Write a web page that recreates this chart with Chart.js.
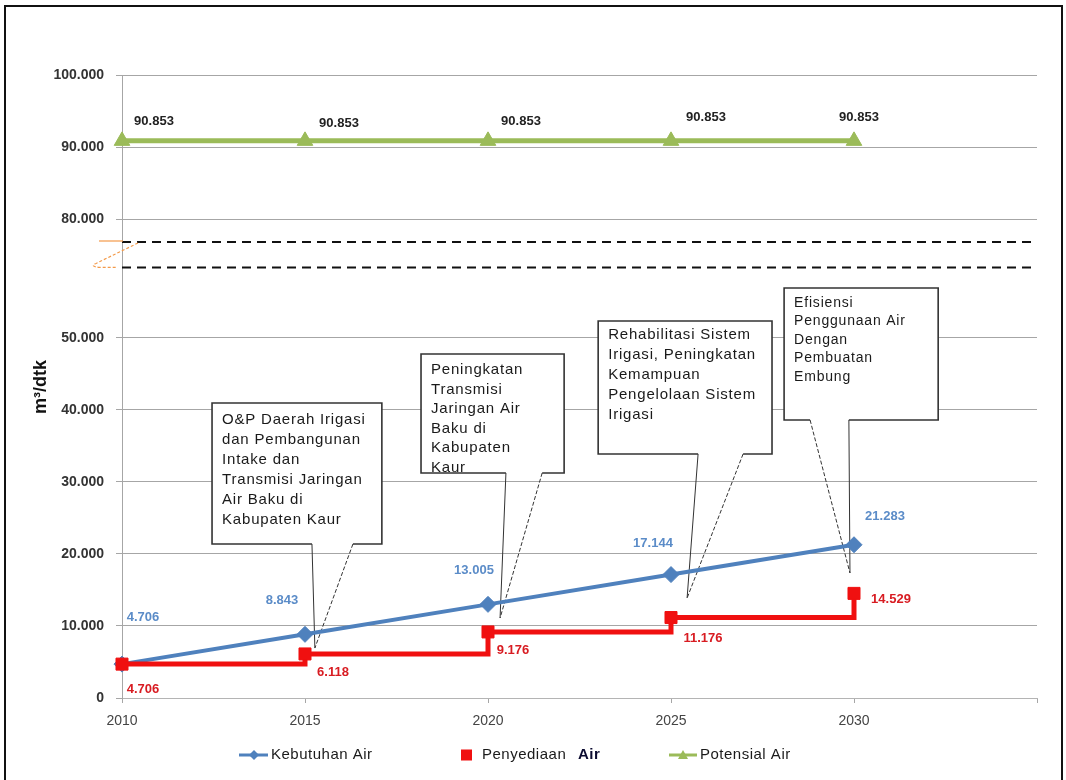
<!DOCTYPE html>
<html>
<head>
  <meta charset="utf-8">
  <title>Kebutuhan dan Penyediaan Air</title>
  <script src="https://cdn.jsdelivr.net/npm/chart.js@4.4.1/dist/chart.umd.min.js"></script>
  <style>
    html, body { margin: 0; padding: 0; background: #fff; }
  </style>
</head>
<body>
  <canvas id="myChart" width="1066" height="780"></canvas>
  <script type="text/javascript">
    // data (m3/dtk, dot = thousands separator)
    var YEARS = [2010, 2015, 2020, 2025, 2030];
    var KEBUTUHAN = [4706, 8843, 13005, 17144, 21283];
    var PENYEDIAAN = [4706, 6118, 9176, 11176, 14529];
    var POTENSIAL = [90853, 90853, 90853, 90853, 90853];
    var X_TICKS = [2010, 2015, 2020, 2025, 2030, 2035];
    var LOWER_TICKS = [0, 10000, 20000, 30000, 40000, 50000];
    var UPPER_TICKS = [80000, 90000, 100000];
    var SERIES_NAMES = ['Kebutuhan Air', 'Penyediaan Air', 'Potensial Air'];
    var CALLOUT_TEXT = [
      ['O&P Daerah Irigasi', 'dan Pembangunan', 'Intake dan', 'Transmisi Jaringan', 'Air Baku di', 'Kabupaten Kaur'],
      ['Peningkatan', 'Transmisi', 'Jaringan Air', 'Baku di', 'Kabupaten', 'Kaur'],
      ['Rehabilitasi Sistem', 'Irigasi, Peningkatan', 'Kemampuan', 'Pengelolaan Sistem', 'Irigasi'],
      ['Efisiensi', 'Penggunaan Air', 'Dengan', 'Pembuatan', 'Embung']
    ];

    var BLUE = '#4f81bd', RED = '#f01010', GREEN = '#9bbb59';
    var FONT = '"Liberation Sans", Arial, sans-serif';

    // where each callout sits, in axis units (year, lower-axis value)
    var CALLOUT_GEOM = [
      {x0: 2012.46, x1: 2017.10, y0: 40970, y1: 21390, a: 2015.19, b: 2016.31, tx: 2015.27, ty: 6940, dashed: 'b', size: 15, first: 17, lh: 20},
      {x0: 2018.17, x1: 2022.08, y0: 47780, y1: 31250, a: 2020.49, b: 2021.48, tx: 2020.33, ty: 11110, dashed: 'b', size: 15, first: 16, lh: 19.5},
      {x0: 2023.01, x1: 2027.76, y0: 52360, y1: 33890, a: 2025.74, b: 2026.97, tx: 2025.44, ty: 13890, dashed: 'b', size: 15, first: 14, lh: 20},
      {x0: 2028.09, x1: 2032.30, y0: 56940, y1: 38610, a: 2028.80, b: 2029.86, tx: 2029.89, ty: 17360, dashed: 'a', size: 14, first: 15, lh: 18.5}
    ];
    // value label offsets from each point, in pixels
    var LABEL_OFF = [
      [[21, -47], [-23, -34], [-14, -34], [-18, -31], [31, -28]],
      [[21, 25], [28, 18], [25, 18], [32, 21], [37, 6]],
      [[32, -19], [34, -17], [33, -19], [35, -23], [5, -23]]
    ];
    var LABEL_STYLE = [
      {color: '#5b8cc8', font: 'bold 13px ' + FONT},
      {color: '#d81c22', font: 'bold 13px ' + FONT},
      {color: '#222', font: 'bold 13px ' + FONT}
    ];
    var BREAK_LOW = 59800;

    function fmt(v) {
      return String(v).replace(/\B(?=(\d{3})+(?!\d))/g, '.');
    }
    function points(vals) {
      return YEARS.map(function(yr, i) { return {x: yr, y: vals[i]}; });
    }

    var decor = {
      id: 'decor',
      beforeDraw: function(chart) {
        var ctx = chart.ctx;
        ctx.save();
        ctx.fillStyle = '#fff';
        ctx.fillRect(0, 0, chart.width, chart.height);
        ctx.restore();
      },
      beforeDatasetsDraw: function(chart) {
        var ctx = chart.ctx, area = chart.chartArea;
        var xs = chart.scales.x, ys = chart.scales.y, yt = chart.scales.yTop;
        var yH = yt.getPixelForValue(yt.min), yL = ys.getPixelForValue(BREAK_LOW);
        ctx.save();
        // axis break
        ctx.strokeStyle = '#111';
        ctx.lineWidth = 2;
        ctx.setLineDash([9, 6]);
        [yH, yL].forEach(function(y) {
          ctx.beginPath();
          ctx.moveTo(area.left, y);
          ctx.lineTo(area.right, y);
          ctx.stroke();
        });
        ctx.strokeStyle = '#f39a4a';
        ctx.lineWidth = 1.2;
        ctx.setLineDash([]);
        ctx.beginPath();
        ctx.moveTo(area.left - 23, yH - 1);
        ctx.lineTo(area.left + 1, yH - 1);
        ctx.stroke();
        ctx.setLineDash([3, 2]);
        ctx.beginPath();
        ctx.moveTo(area.left + 16, yH + 1);
        ctx.lineTo(area.left - 26, yL - 4);
        ctx.quadraticCurveTo(area.left - 33, yL - 1, area.left - 22, yL);
        ctx.lineTo(area.left - 6, yL);
        ctx.stroke();
        ctx.setLineDash([]);

        // callouts
        CALLOUT_GEOM.forEach(function(c, k) {
          var L = xs.getPixelForValue(c.x0), R = xs.getPixelForValue(c.x1);
          var T = ys.getPixelForValue(c.y0), B = ys.getPixelForValue(c.y1);
          var A = xs.getPixelForValue(c.a), Bb = xs.getPixelForValue(c.b);
          var TX = xs.getPixelForValue(c.tx), TY = ys.getPixelForValue(c.ty);
          ctx.fillStyle = '#fff';
          ctx.fillRect(L, T, R - L, B - T);
          ctx.fillStyle = '#1a1a1a';
          ctx.font = c.size + 'px ' + FONT;
          ctx.letterSpacing = '0.8px';
          ctx.textAlign = 'left';
          ctx.textBaseline = 'middle';
          CALLOUT_TEXT[k].forEach(function(line, i) {
            ctx.fillText(line, L + 10, T + c.first + i * c.lh);
          });
          ctx.letterSpacing = '0px';
          ctx.strokeStyle = '#333';
          ctx.lineWidth = 1.6;
          ctx.beginPath();
          ctx.moveTo(A, B);
          ctx.lineTo(L, B);
          ctx.lineTo(L, T);
          ctx.lineTo(R, T);
          ctx.lineTo(R, B);
          ctx.lineTo(Bb, B);
          ctx.stroke();
          ctx.lineWidth = 1;
          [['a', A], ['b', Bb]].forEach(function(e) {
            ctx.setLineDash(c.dashed === e[0] ? [4, 2] : []);
            ctx.beginPath();
            ctx.moveTo(e[1], B);
            ctx.lineTo(TX, TY);
            ctx.stroke();
          });
          ctx.setLineDash([]);
        });
        ctx.restore();
      },
      afterDatasetsDraw: function(chart) {
        var ctx = chart.ctx;
        ctx.save();
        ctx.textAlign = 'center';
        ctx.textBaseline = 'middle';
        [KEBUTUHAN, PENYEDIAAN, POTENSIAL].forEach(function(vals, d) {
          var meta = chart.getDatasetMeta(d);
          ctx.fillStyle = LABEL_STYLE[d].color;
          ctx.font = LABEL_STYLE[d].font;
          vals.forEach(function(v, i) {
            var pt = meta.data[i];
            ctx.fillText(fmt(v), pt.x + LABEL_OFF[d][i][0], pt.y + LABEL_OFF[d][i][1]);
          });
        });
        ctx.restore();
      },
      afterDraw: function(chart) {
        var ctx = chart.ctx, area = chart.chartArea;
        ctx.save();
        // y axis title
        ctx.translate(41, 387);
        ctx.rotate(-Math.PI / 2);
        ctx.fillStyle = '#111';
        ctx.font = 'bold 18px ' + FONT;
        ctx.textAlign = 'center';
        ctx.textBaseline = 'middle';
        ctx.fillText('m\u00b3/dtk', 0, 0);
        ctx.restore();

        // legend
        var ly = 755;
        ctx.save();
        ctx.lineWidth = 3;
        ctx.strokeStyle = BLUE;
        ctx.beginPath(); ctx.moveTo(239, ly); ctx.lineTo(268, ly); ctx.stroke();
        ctx.fillStyle = BLUE;
        ctx.beginPath();
        ctx.moveTo(254, ly - 5); ctx.lineTo(259, ly); ctx.lineTo(254, ly + 5); ctx.lineTo(249, ly);
        ctx.closePath(); ctx.fill();
        ctx.fillStyle = RED;
        ctx.fillRect(461, ly - 5.5, 11, 11);
        ctx.strokeStyle = GREEN;
        ctx.beginPath(); ctx.moveTo(669, ly); ctx.lineTo(697, ly); ctx.stroke();
        ctx.fillStyle = GREEN;
        ctx.beginPath();
        ctx.moveTo(683, ly - 5); ctx.lineTo(688, ly + 4); ctx.lineTo(678, ly + 4);
        ctx.closePath(); ctx.fill();

        ctx.fillStyle = '#1a1a1a';
        ctx.textAlign = 'left';
        ctx.textBaseline = 'middle';
        ctx.letterSpacing = '0.5px';
        ctx.font = '15px ' + FONT;
        ctx.fillText(SERIES_NAMES[0], 271, ly);
        var parts = SERIES_NAMES[1].split(' ');
        ctx.fillText(parts[0], 482, ly);
        ctx.font = 'bold 15px ' + FONT;
        ctx.fillStyle = '#0a0a30';
        ctx.fillText(parts[1], 578, ly);
        ctx.font = '15px ' + FONT;
        ctx.fillStyle = '#1a1a1a';
        ctx.fillText(SERIES_NAMES[2], 700, ly);
        ctx.letterSpacing = '0px';

        // outer frame
        ctx.strokeStyle = '#111';
        ctx.lineWidth = 2;
        ctx.strokeRect(5, 6, 1057, 800);
        ctx.restore();
      }
    };

    var ctx = document.getElementById('myChart');

    var myChart = new Chart(ctx, {
      type: 'line',
      data: {
        datasets: [
          {
            label: SERIES_NAMES[0],
            data: points(KEBUTUHAN),
            yAxisID: 'y',
            order: 1,
            borderColor: BLUE,
            backgroundColor: BLUE,
            borderWidth: 4,
            pointStyle: 'rectRot',
            pointRadius: 8,
            pointBorderWidth: 1,
            tension: 0,
            clip: false
          },
          {
            label: SERIES_NAMES[1],
            data: points(PENYEDIAAN),
            yAxisID: 'y',
            order: 0,
            stepped: 'before',
            borderColor: RED,
            backgroundColor: RED,
            borderWidth: 5,
            pointStyle: 'rect',
            pointRadius: 8.5,
            pointBorderWidth: 1,
            clip: false
          },
          {
            label: SERIES_NAMES[2],
            data: points(POTENSIAL),
            yAxisID: 'yTop',
            order: 2,
            borderColor: GREEN,
            backgroundColor: GREEN,
            borderWidth: 5,
            pointStyle: 'triangle',
            pointRadius: 9,
            pointBorderWidth: 1,
            tension: 0,
            clip: false
          }
        ]
      },
      options: {
        responsive: false,
        animation: false,
        devicePixelRatio: 1,
        layout: { padding: { left: 0, right: 29, top: 75, bottom: 42 } },
        plugins: {
          legend: { display: false },
          tooltip: { enabled: false }
        },
        scales: {
          x: {
            type: 'linear',
            min: 2010,
            max: 2035,
            afterBuildTicks: function(s) { s.ticks = X_TICKS.map(function(v) { return {value: v}; }); },
            afterFit: function(s) { s.height = 40; },
            ticks: {
              autoSkip: false,
              maxRotation: 0,
              padding: 10,
              color: '#444',
              font: { family: FONT, size: 14 },
              callback: function(v) { return v === 2035 ? '' : String(v); }
            },
            grid: { drawOnChartArea: false, tickLength: 5, color: '#a6a6a6' },
            border: { color: '#b4b4b4' }
          },
          y: {
            type: 'linear',
            position: 'left',
            stack: 'brk',
            stackWeight: 456,
            min: 0,
            max: 63333,
            afterBuildTicks: function(s) { s.ticks = LOWER_TICKS.map(function(v) { return {value: v}; }); },
            afterFit: function(s) { s.width = 122; },
            ticks: {
              padding: 12,
              color: '#333',
              font: { family: FONT, size: 14, weight: 'bold' },
              callback: function(v) { return fmt(v); }
            },
            grid: { tickLength: 6, color: '#a6a6a6' },
            border: { color: '#a6a6a6' }
          },
          yTop: {
            type: 'linear',
            position: 'left',
            stack: 'brk',
            stackWeight: 167,
            min: 76806,
            max: 100000,
            afterBuildTicks: function(s) { s.ticks = UPPER_TICKS.map(function(v) { return {value: v}; }); },
            afterFit: function(s) { s.width = 122; },
            ticks: {
              padding: 12,
              color: '#333',
              font: { family: FONT, size: 14, weight: 'bold' },
              callback: function(v) { return fmt(v); }
            },
            grid: { tickLength: 6, color: '#a6a6a6' },
            border: { color: '#a6a6a6' }
          }
        }
      },
      plugins: [decor]
    });
  </script>
</body>
</html>
